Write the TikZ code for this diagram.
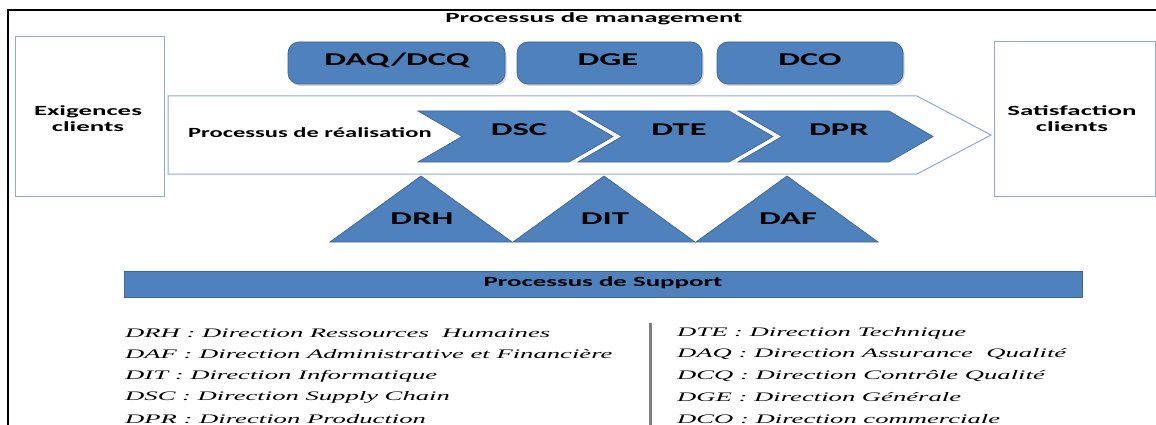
\documentclass[tikz,border=0pt]{standalone}
\usepackage{fontspec}
\setmainfont{Liberation Serif}
% wide sans for the box labels, wide italic serif for the legend
\newfontfamily\labfont[FakeStretch=1.75]{Carlito}
\newfontfamily\labwide[FakeStretch=1.92]{Carlito}
\newfontfamily\legfont[FakeStretch=2.05]{Liberation Serif}
\usetikzlibrary{shadows}
\definecolor{procblue}{HTML}{4F81BD}
\definecolor{procedge}{HTML}{3A659A}
\definecolor{lineblue}{HTML}{8EAADB}
\definecolor{sepgray}{HTML}{7F7F7F}
\begin{document}
\begin{tikzpicture}[x=1pt,y=-1pt,
  bluefill/.style={fill=procblue, draw=procedge, line width=0.7pt},
  mgmtbox/.style={bluefill, rounded corners=11pt,
    drop shadow={shadow xshift=1.5pt, shadow yshift=-2pt, opacity=0.35}},
  outlinebox/.style={draw=lineblue, line width=1pt, fill=white},
  biglabel/.style={font=\labwide\bfseries\fontsize{18}{18}\selectfont, inner sep=0pt},
  smalllabel/.style={font=\labwide\bfseries\fontsize{14}{16}\selectfont, inner sep=0pt},
  reallabel/.style={font=\labfont\bfseries\fontsize{14}{16}\selectfont, inner sep=0pt},
  legendline/.style={font=\legfont\itshape\fontsize{13}{13}\selectfont, inner sep=0pt, anchor=west},
]
\useasboundingbox (0,0) rectangle (1156,425);

% outer frame (top and left edges)
\draw[line width=2pt] (8,425) -- (8,10) -- (1160,10);

% title of the management processes
\node[smalllabel] (mgmt) at (594,19) {Processus de management};

% client boxes
\draw[outlinebox] (15,37) rectangle (164,196);
\node[smalllabel, align=center] (exig) at (88,119) {Exigences\\clients};
\draw[outlinebox] (994,42) rectangle (1155,196);
\node[smalllabel, align=center] (satis) at (1072,119) {Satisfaction\\clients};

% management boxes
\draw[mgmtbox] (288,42) rectangle (505,84);
\node[biglabel] (daq) at (397,60) {DAQ/DCQ};
\draw[mgmtbox] (517,42) rectangle (702,84);
\node[biglabel] (dge) at (608,60) {DGE};
\draw[mgmtbox] (717,42) rectangle (903,84);
\node[biglabel] (dco) at (810,60) {DCO};

% realisation arrow
\draw[outlinebox] (168,96) -- (917,96) -- (991,135) -- (917,174) -- (168,174) -- cycle;
\node[reallabel, anchor=west] (real) at (188,133) {Processus de réalisation};

% realisation chevrons
\foreach \x/\lab/\nm in {418/DSC/dsc, 578/DTE/dte, 738/DPR/dpr}{
  \draw[bluefill] (\x,111) -- (\x+151,111) -- (\x+195,136.5) -- (\x+151,162)
     -- (\x,162) -- (\x+44,136.5) -- cycle;
  \node[biglabel] (\nm) at (\x+101,130) {\lab};
}

% support triangles
\foreach \x/\lab/\nm in {330/DRH/drh, 513/DIT/dit, 696/DAF/daf}{
  \draw[bluefill] (\x,242) -- (\x+91,176) -- (\x+182,242) -- cycle;
  \node[biglabel] (\nm) at (\x+92,219) {\lab};
}

% support bar
\draw[bluefill] (124,271) rectangle (1082,297);
\node[smalllabel] (supp) at (603,283) {Processus de Support};

% legend
\draw[sepgray, line width=3pt] (650,323) -- (650,425);
\node[legendline] (l1) at (125,333) {DRH : Direction Ressources\ \ Humaines};
\node[legendline] (l2) at (125,354.5) {DAF : Direction Administrative et Financière};
\node[legendline] (l3) at (125,376) {DIT : Direction Informatique};
\node[legendline] (l4) at (125,397.5) {DSC : Direction Supply Chain};
\node[legendline] (l5) at (125,419) {DPR : Direction Production};
\node[legendline] (r1) at (677,333) {DTE : Direction Technique};
\node[legendline] (r2) at (677,354.5) {DAQ : Direction Assurance\ \ Qualité};
\node[legendline] (r3) at (677,376) {DCQ : Direction Contrôle Qualité};
\node[legendline] (r4) at (677,397.5) {DGE : Direction Générale};
\node[legendline] (r5) at (677,419) {DCO : Direction commerciale};
\end{tikzpicture}
\end{document}
